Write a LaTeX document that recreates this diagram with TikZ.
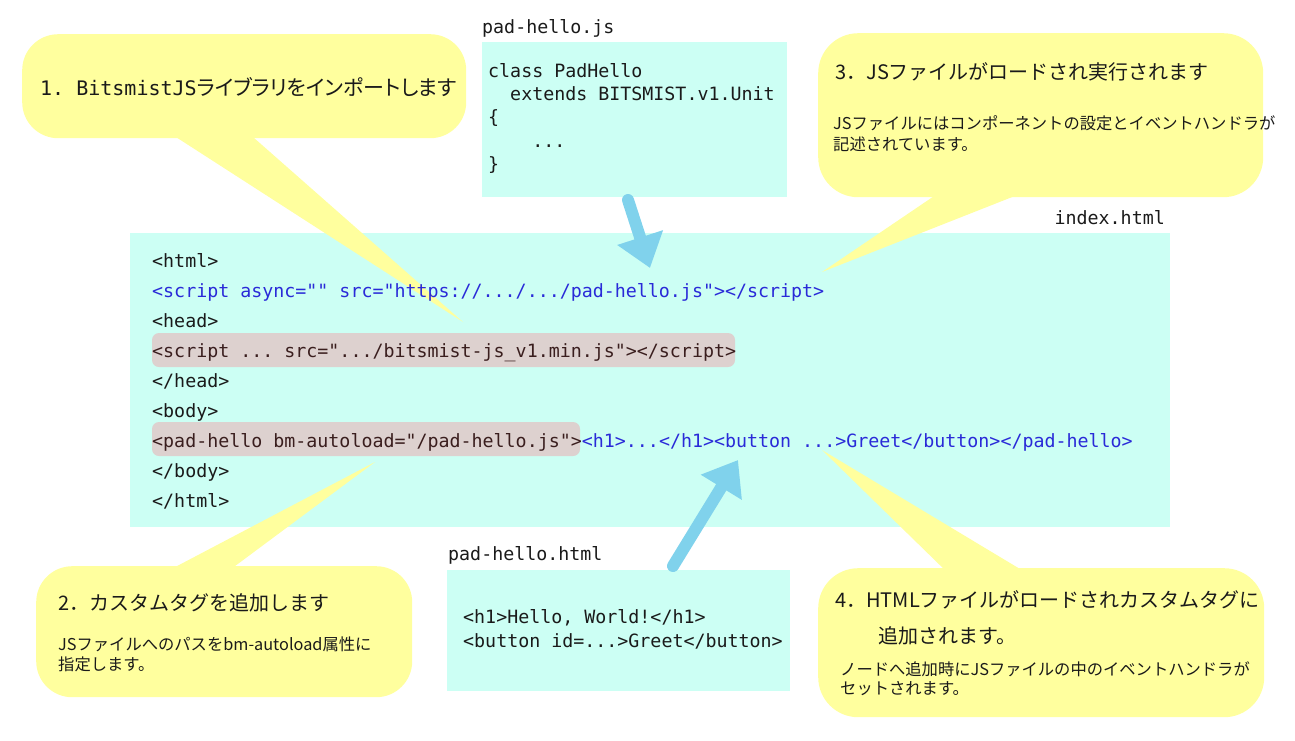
\documentclass[tikz,border=0pt]{standalone}
\usepackage{fontspec}
\setmainfont{Noto Sans CJK JP}
\setmonofont{DejaVu Sans Mono}
\newfontfamily\jpprop[RawFeature=+palt]{Noto Sans CJK JP}
\usetikzlibrary{arrows.meta}
\definecolor{boxcyan}{HTML}{CCFFF4}
\definecolor{noteyellow}{HTML}{FFFF9E}
\definecolor{markgray}{HTML}{DDD1CF}
\definecolor{tagblue}{HTML}{2A2AD8}
\definecolor{arrowblue}{HTML}{80D2EC}
\definecolor{codebrown}{HTML}{3A1E1E}
\definecolor{codeblack}{HTML}{1A1A1A}

\begin{document}
\begin{tikzpicture}[x=1pt,y=-1pt,
	filebox/.style={fill=boxcyan, anchor=north west, inner sep=0pt},
	markbox/.style={fill=markgray, rounded corners=7pt},
	notebox/.style={fill=noteyellow, anchor=north west, inner sep=0pt},
	code/.style={anchor=base west, inner sep=0pt, text=codeblack, font=\ttfamily\fontsize{18.3}{20}\selectfont},
	title/.style={anchor=base west, inner sep=0pt, text=codeblack, font=\fontsize{20}{24}\selectfont},
	note/.style={anchor=base west, inner sep=0pt, text=codeblack, font=\fontsize{16.3}{19}\selectfont},
	flow/.style={arrowblue, line width=12pt, line cap=round, -{Triangle[length=32pt,width=46pt]}}]
	\useasboundingbox (0,0) rectangle (1295,740);

	% file boxes
	\node[filebox, minimum width=1040, minimum height=294] (index) at (130,233) {};
	\node[filebox, minimum width=305, minimum height=155] (js) at (482,42) {};
	\node[filebox, minimum width=343, minimum height=121] (html) at (447,570) {};
	\fill[markbox] (152,333) rectangle (735,367);
	\fill[markbox] (152,422) rectangle (580,456);

	% callouts
	\node[notebox, rounded corners=36pt, minimum width=444, minimum height=104] (note1) at (22,34) {};
	\node[notebox, rounded corners=36pt, minimum width=376, minimum height=131] (note2) at (36,566) {};
	\node[notebox, rounded corners=40pt, minimum width=445, minimum height=164] (note3) at (818,33) {};
	\node[notebox, rounded corners=40pt, minimum width=446, minimum height=149] (note4) at (818,568) {};
	\coordinate (tip1) at (463,322);
	\coordinate (tip2) at (375,462);
	\coordinate (tip3) at (822,272);
	\coordinate (tip4) at (822,450);
	\fill[noteyellow] (165,130) -- (tip1) -- (245,130) -- cycle;
	\fill[noteyellow] (160,575) -- (tip2) -- (223,575) -- cycle;
	\fill[noteyellow] (943,190) -- (tip3) -- (1030,190) -- cycle;
	\fill[noteyellow] (950,575) -- (tip4) -- (1030,575) -- cycle;

	% arrows
	\coordinate (jsout) at (628,200);
	\coordinate (jsin) at (650,268);
	\coordinate (htmlout) at (673,566);
	\coordinate (htmlin) at (738,460);
	\draw[flow] (jsout) -- (jsin);
	\draw[flow] (htmlout) -- (htmlin);

	% file names
	\node[code] (jsname) at (482,33) {pad-hello.js};
	\node[code, anchor=base east] (indexname) at (1165,224) {index.html};
	\node[code] (htmlname) at (448,560) {pad-hello.html};

	% pad-hello.js
	\node[code] (js1) at (488,77) {class PadHello};
	\node[code] (js2) at (488,100) {\phantom{xx}extends BITSMIST.v1.Unit};
	\node[code] (js3) at (488,123) {\{};
	\node[code] (js4) at (488,147) {\phantom{xxxx}...};
	\node[code] (js5) at (488,170) {\}};

	% index.html
	\node[code] (l1) at (152,267) {<html>};
	\node[code, text=tagblue] (l2) at (152,297) {<script async="" src="https://.../.../pad-hello.js"></script>};
	\node[code] (l3) at (152,327) {<head>};
	\node[code, text=codebrown] (l4) at (152,357) {<script ... src=".../bitsmist-js\_v1.min.js"></script>};
	\node[code] (l5) at (152,387) {</head>};
	\node[code] (l6) at (152,417) {<body>};
	\node[code, text=codebrown] (l7) at (152,447) {<pad-hello bm-autoload="/pad-hello.js">\textcolor{tagblue}{<h1>...</h1><button ...>Greet</button></pad-hello>}};
	\node[code] (l8) at (152,477) {</body>};
	\node[code] (l9) at (152,507) {</html>};

	% pad-hello.html
	\node[code] (h1) at (463,623) {<h1>Hello, World!</h1>};
	\node[code] (h2) at (463,647) {<button id=...>Greet</button>};

	% notes
	\node[title] (t1) at (40,95) {{\ttfamily\fontsize{20}{24}\selectfont 1. BitsmistJS}{\jpprop\fontsize{21}{24}\selectfont ライブラリをインポートします}};
	\node[title] (t2) at (58,610) {2．カスタムタグを追加します};
	\node[note] (n2a) at (58,650) {JSファイルへのパスをbm-autoload属性に};
	\node[note] (n2b) at (58,670) {指定します。};
	\node[title] (t3) at (835,79) {3．JSファイルがロードされ実行されます};
	\node[note] (n3a) at (833,129) {JSファイルにはコンポーネントの設定とイベントハンドラが};
	\node[note] (n3b) at (833,150) {記述されています。};
	\node[title] (t4a) at (835,607) {4．HTMLファイルがロードされカスタムタグに};
	\node[title] (t4b) at (878,643) {追加されます。};
	\node[note] (n4a) at (840,675) {ノードへ追加時にJSファイルの中のイベントハンドラが};
	\node[note] (n4b) at (840,694) {セットされます。};
\end{tikzpicture}
\end{document}
